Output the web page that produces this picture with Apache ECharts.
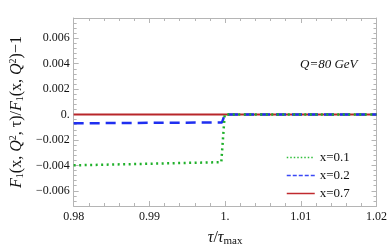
<!DOCTYPE html>
<html>
<head>
<meta charset="utf-8">
<script src="https://cdn.jsdelivr.net/npm/echarts@6/dist/echarts.min.js"></script>
<style>
  html, body { margin: 0; padding: 0; background: #fff; }
  #chart { width: 390px; height: 252px; }
</style>
</head>
<body>
<div id="chart"></div>
<script>
// series data (tau/tau_max, ratio)
const tauX01 = [0.98, 0.9995, 0.99995, 1.02];
const valX01 = [-0.0040, -0.00375, 0, 0];
const tauX02 = [0.98, 0.9996, 0.99995, 1.02];
const valX02 = [-0.00069, -0.00062, 0, 0];
const tauX07 = [0.98, 1.02];
const valX07 = [0, 0];
const xTicks = [0.98, 0.99, 1.00, 1.01, 1.02];
const yTicks = [-0.006, -0.004, -0.002, 0, 0.002, 0.004, 0.006];

const serif = '"Liberation Serif", "DejaVu Serif", serif';
const frame = '#b5b5b5';
const yMin = -0.0072, yMax = 0.0076;

function pairs(xs, ys) {
  return xs.map((x, i) => [x, ys[i]]);
}

// Mathematica-like tick labels: "0." and "1.", real minus sign
function fmtX(v) {
  const r = Math.round(v * 100) / 100;
  if (Math.abs(r - 1) < 1e-9) return '1.';
  return r.toFixed(2);
}
function fmtY(v) {
  const r = Math.round(v * 1000) / 1000;
  if (Math.abs(r) < 1e-9) return '0.';
  return (r < 0 ? '\u2212' : '') + Math.abs(r).toFixed(3);
}

const axisLine = { show: true, onZero: false, lineStyle: { color: frame, width: 1 } };
const xCommon = {
  axisLine: axisLine,
  axisTick: { show: true, inside: true, length: 5, lineStyle: { color: frame } },
  minorTick: { show: true, splitNumber: 5, length: 3, lineStyle: { color: frame } },
  splitLine: { show: false }
};

// minor ticks: a y axis stepping 0.0004 (min is a multiple of it)
function yMinorAxis(pos) {
  return {
    type: 'value', min: yMin, max: yMax, interval: 0.0004, position: pos,
    axisLine: axisLine,
    axisTick: { show: true, inside: true, length: 3, lineStyle: { color: frame } },
    axisLabel: { show: false },
    splitLine: { show: false }
  };
}
// major ticks + labels at fixed values
function yMajorAxis(pos, withLabels) {
  return {
    type: 'value', min: yMin, max: yMax, position: pos,
    axisLine: { show: false },
    axisTick: { show: true, inside: true, length: 5, customValues: yTicks, lineStyle: { color: frame } },
    axisLabel: {
      show: withLabels, customValues: yTicks, formatter: fmtY,
      color: '#111', fontFamily: serif, fontSize: 12, margin: 4
    },
    splitLine: { show: false }
  };
}

const chart = echarts.init(document.getElementById('chart'), null, { renderer: 'canvas' });

const yLeft = yMajorAxis('left', true);
yLeft.name = '{i|F}{b|1}{n|(x, }{i|Q}{p|2}{n|, \u03c4)/}{i|F}{b|1}{n|(x, }{i|Q}{p|2}{n|)\u22121}';
yLeft.nameLocation = 'middle';
yLeft.nameGap = 44;
yLeft.nameRotate = 90;
yLeft.nameTextStyle = {
  rich: {
    i: { fontFamily: serif, fontStyle: 'italic', fontSize: 16, color: '#111' },
    n: { fontFamily: serif, fontSize: 16, color: '#111' },
    b: { fontFamily: serif, fontSize: 10, color: '#111', verticalAlign: 'bottom', padding: [7, 0, 0, 0] },
    p: { fontFamily: serif, fontSize: 10, color: '#111', verticalAlign: 'top', padding: [0, 0, 7, 0] }
  }
};

// legend: line only, hide the marker the line series draws in the middle
const hideMark = { color: 'rgba(0,0,0,0)', borderColor: 'rgba(0,0,0,0)', borderWidth: 0, opacity: 0 };

chart.setOption({
  animation: false,
  backgroundColor: '#fff',
  grid: { left: 59, right: 12, top: 18, bottom: 41 },
  xAxis: [
    {
      type: 'value', min: 0.98, max: 1.02, interval: 0.01, position: 'bottom',
      ...xCommon,
      axisLabel: { color: '#111', fontFamily: serif, fontSize: 12, margin: 5, formatter: fmtX },
      name: '{i|\u03c4}{n|/}{i|\u03c4}{s|max}',
      nameLocation: 'middle', nameGap: 23,
      nameTextStyle: {
        rich: {
          i: { fontFamily: serif, fontStyle: 'italic', fontSize: 16, color: '#111' },
          n: { fontFamily: serif, fontSize: 16, color: '#111' },
          s: { fontFamily: serif, fontSize: 11, color: '#111', verticalAlign: 'bottom', padding: [7, 0, 0, 0] }
        }
      }
    },
    {
      type: 'value', min: 0.98, max: 1.02, interval: 0.01, position: 'top',
      ...xCommon,
      axisLabel: { show: false }
    }
  ],
  yAxis: [
    yMinorAxis('left'),
    yLeft,
    yMinorAxis('right'),
    yMajorAxis('right', false)
  ],
  legend: {
    orient: 'vertical',
    left: 281, top: 146,
    itemWidth: 28, itemHeight: 10, itemGap: 5,
    textStyle: { fontFamily: serif, fontSize: 13, color: '#111' },
    data: [
      { name: 'x=0.1', itemStyle: hideMark, lineStyle: { width: 1.3, color: '#2fbf3a', type: [1.5, 2] } },
      { name: 'x=0.2', itemStyle: hideMark, lineStyle: { width: 1.5, color: '#3a48f5', type: [4, 2] } },
      { name: 'x=0.7', itemStyle: hideMark, lineStyle: { width: 1.5, color: '#c02a2e' } }
    ]
  },
  graphic: [
    {
      type: 'text', left: 300, top: 58,
      style: { text: 'Q=80 GeV', font: 'italic 13px ' + serif, fill: '#111' }
    }
  ],
  series: [
    {
      name: 'x=0.7', type: 'line', data: pairs(tauX07, valX07), yAxisIndex: 1,
      symbol: 'none', lineStyle: { color: '#b8262a', width: 2 }, itemStyle: { color: '#b8262a' }
    },
    {
      name: 'x=0.2', type: 'line', data: pairs(tauX02, valX02), yAxisIndex: 1,
      symbol: 'none', lineStyle: { color: '#1f2ff0', width: 2.5, type: [10, 6] }, itemStyle: { color: '#1f2ff0' }
    },
    {
      name: 'x=0.1', type: 'line', data: pairs(tauX01, valX01), yAxisIndex: 1,
      symbol: 'none', lineStyle: { color: '#1fb02a', width: 2.5, type: [2, 3.5] }, itemStyle: { color: '#1fb02a' }
    }
  ]
});

window.addEventListener('resize', () => chart.resize());
</script>
</body>
</html>
